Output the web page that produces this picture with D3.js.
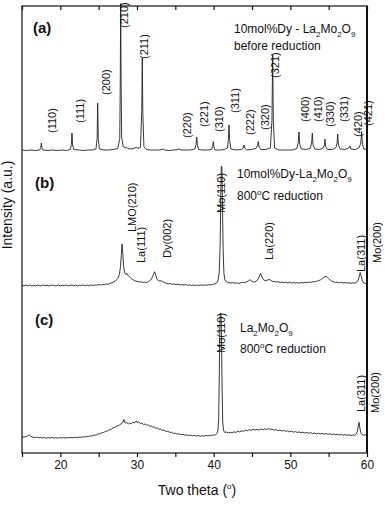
<!DOCTYPE html>
<html><head><meta charset="utf-8">
<script src="https://cdn.jsdelivr.net/npm/d3@7"></script>
<style>
body{margin:0;background:#fff;}
svg text{font-family:"Liberation Sans",Arial,Helvetica,sans-serif;fill:#111;}
</style>
</head><body>
<svg id="chart" width="385" height="505"></svg>
<script>
// ---------- DATA (2θ in degrees, intensity in counts relative to each pattern's baseline) ----------
const traceA = [[15.0,5],[15.6,0],[16.2,5],[16.8,0],[17.3,5],[17.45,30],[17.52,75],[17.6,25],[17.75,5],[18.4,0],[19.0,5],[19.6,0],[20.2,5],[20.8,0],[21.3,10],[21.44,60],[21.52,175],[21.6,55],[21.75,10],[22.4,5],[23.0,0],[23.6,5],[24.2,5],[24.65,15],[24.8,120],[24.87,475],[24.95,110],[25.1,15],[25.7,5],[26.3,5],[26.9,10],[27.5,20],[27.75,120],[27.82,700],[27.87,1470],[27.93,650],[28.0,130],[28.2,40],[28.5,25],[28.6,35],[28.8,20],[29.2,15],[29.6,20],[29.95,35],[30.1,20],[30.45,30],[30.62,400],[30.69,925],[30.76,380],[30.9,40],[31.2,10],[31.8,5],[32.4,5],[33.0,5],[33.4,15],[33.6,5],[34.2,0],[34.8,5],[35.4,10],[35.5,20],[35.65,5],[36.3,5],[36.9,5],[37.55,15],[37.7,60],[37.79,135],[37.88,55],[38.05,10],[38.6,5],[39.2,5],[39.75,10],[39.87,40],[39.95,90],[40.03,35],[40.2,5],[40.8,5],[41.4,10],[41.8,25],[41.92,110],[42.0,255],[42.08,100],[42.25,15],[42.9,5],[43.6,10],[43.85,25],[43.96,55],[44.08,20],[44.3,5],[44.9,10],[45.5,20],[45.72,50],[45.82,90],[45.92,35],[46.15,10],[46.8,10],[47.4,25],[47.6,300],[47.7,955],[47.78,290],[47.95,25],[48.5,5],[49.1,5],[49.7,5],[50.3,5],[50.85,20],[51.03,80],[51.13,185],[51.22,60],[51.45,15],[52.1,10],[52.6,25],[52.78,75],[52.87,175],[52.96,55],[53.2,15],[53.8,10],[54.3,25],[54.44,55],[54.52,115],[54.6,40],[54.85,10],[55.5,10],[55.95,30],[56.1,75],[56.18,165],[56.27,55],[56.5,15],[57.1,10],[57.6,25],[57.78,45],[57.9,15],[58.5,10],[59.0,30],[59.2,80],[59.3,190],[59.4,60],[59.6,15],[60.0,10]];

const traceB = [[15.00,3],[15.25,-4],[15.50,5],[15.75,-2],[16.00,6],[16.25,-5],[16.50,2],[16.75,-6],[17.00,4],[17.25,0],[17.50,-5],[17.75,6],[18.00,-3],[18.25,4],[18.50,-6],[18.75,2],[19.00,5],[19.25,-4],[19.50,0],[19.75,6],[20.00,-5],[20.25,3],[20.50,-2],[20.75,5],[21.00,-4],[21.25,2],[21.50,6],[21.75,-3],[22.00,4],[22.25,-5],[22.50,3],[22.75,0],[23.00,6],[23.25,-2],[23.50,5],[23.75,-4],[24.00,7],[24.25,0],[24.50,6],[24.75,3],[25.00,9],[25.25,4],[25.50,12],[25.75,8],[26.00,15],[26.25,12],[26.50,22],[26.75,28],[27.00,38],[27.25,50],[27.50,70],[27.70,110],[27.85,190],[27.95,300],[28.05,415],[28.15,320],[28.25,190],[28.40,125],[28.55,110],[28.65,122],[28.80,105],[29.00,88],[29.25,70],[29.50,58],[29.75,46],[30.00,42],[30.25,34],[30.50,38],[30.75,30],[31.00,34],[31.25,30],[31.50,40],[31.75,52],[31.95,75],[32.15,110],[32.30,138],[32.45,100],[32.60,62],[32.80,50],[33.00,44],[33.20,48],[33.40,36],[33.60,28],[33.85,22],[34.10,16],[34.35,20],[34.60,12],[34.85,16],[35.10,8],[35.35,13],[35.60,6],[35.85,10],[36.10,4],[36.35,9],[36.60,2],[36.85,7],[37.10,0],[37.35,6],[37.60,-2],[37.85,5],[38.10,0],[38.35,7],[38.60,1],[38.85,6],[39.10,2],[39.35,9],[39.60,5],[39.85,12],[40.10,14],[40.35,22],[40.55,45],[40.72,120],[40.85,420],[40.93,900],[41.00,1195],[41.08,1180],[41.15,800],[41.23,380],[41.33,130],[41.45,60],[41.60,42],[41.80,32],[42.00,28],[42.25,24],[42.50,30],[42.75,22],[43.00,27],[43.25,20],[43.50,26],[43.75,32],[44.00,28],[44.25,36],[44.50,42],[44.70,60],[44.90,45],[45.10,40],[45.35,35],[45.60,45],[45.85,70],[46.00,100],[46.12,122],[46.25,95],[46.45,62],[46.70,48],[46.95,52],[47.20,60],[47.40,55],[47.65,42],[47.90,40],[48.15,35],[48.40,38],[48.65,30],[48.90,35],[49.15,28],[49.40,34],[49.65,26],[49.90,32],[50.15,25],[50.40,30],[50.65,24],[50.90,28],[51.15,22],[51.40,30],[51.65,26],[51.90,32],[52.15,28],[52.40,35],[52.65,30],[52.90,38],[53.15,36],[53.40,42],[53.65,48],[53.90,55],[54.10,65],[54.30,78],[54.50,88],[54.65,92],[54.80,84],[55.00,70],[55.20,55],[55.40,45],[55.65,36],[55.90,30],[56.15,34],[56.40,27],[56.65,32],[56.90,25],[57.15,30],[57.40,24],[57.65,28],[57.90,22],[58.15,27],[58.40,24],[58.65,32],[58.85,55],[59.00,95],[59.12,130],[59.25,90],[59.40,45],[59.60,25],[59.80,20],[60.00,18]];

const traceC = [[15.00,12],[15.25,8],[15.50,14],[15.75,20],[15.95,32],[16.15,18],[16.40,10],[16.65,4],[16.90,8],[17.15,2],[17.40,6],[17.65,0],[17.90,5],[18.15,-2],[18.40,4],[18.65,0],[18.90,6],[19.15,-1],[19.40,3],[19.65,-2],[19.90,4],[20.15,0],[20.40,5],[20.65,-1],[20.90,4],[21.15,1],[21.40,6],[21.65,2],[21.90,8],[22.15,3],[22.40,9],[22.65,6],[22.90,12],[23.15,9],[23.40,16],[23.65,14],[23.90,22],[24.15,20],[24.40,30],[24.65,28],[24.90,40],[25.15,42],[25.40,52],[25.65,55],[25.90,68],[26.15,70],[26.40,84],[26.65,88],[26.90,102],[27.15,108],[27.40,120],[27.65,126],[27.90,140],[28.10,150],[28.30,185],[28.45,150],[28.65,155],[28.85,140],[29.05,150],[29.25,142],[29.45,158],[29.65,150],[29.90,170],[30.05,152],[30.25,160],[30.45,145],[30.65,150],[30.85,135],[31.05,140],[31.25,128],[31.45,132],[31.65,118],[31.85,120],[32.05,108],[32.25,110],[32.45,98],[32.65,100],[32.85,88],[33.05,90],[33.25,78],[33.50,80],[33.75,66],[34.00,68],[34.25,56],[34.50,58],[34.75,46],[35.00,48],[35.25,38],[35.50,42],[35.75,32],[36.00,36],[36.25,28],[36.50,32],[36.75,24],[37.00,30],[37.25,22],[37.50,28],[37.75,18],[38.00,26],[38.25,16],[38.50,24],[38.75,18],[39.00,26],[39.25,20],[39.50,28],[39.75,24],[40.00,32],[40.20,30],[40.40,42],[40.55,70],[40.65,180],[40.73,600],[40.80,1100],[40.87,1250],[40.95,1240],[41.02,1000],[41.10,500],[41.18,160],[41.30,75],[41.45,55],[41.65,60],[41.90,50],[42.15,58],[42.40,52],[42.65,62],[42.90,56],[43.15,68],[43.40,60],[43.65,72],[43.90,66],[44.15,80],[44.40,72],[44.65,84],[44.90,76],[45.15,88],[45.40,80],[45.65,86],[45.90,78],[46.15,90],[46.40,82],[46.65,92],[46.90,84],[47.15,94],[47.40,86],[47.65,88],[47.90,78],[48.15,84],[48.40,74],[48.65,80],[48.90,70],[49.15,76],[49.40,66],[49.65,72],[49.90,62],[50.15,68],[50.40,58],[50.65,64],[50.90,55],[51.15,62],[51.40,52],[51.65,58],[51.90,50],[52.15,56],[52.40,46],[52.65,54],[52.90,44],[53.15,50],[53.40,42],[53.65,48],[53.90,40],[54.15,46],[54.40,38],[54.65,44],[54.90,36],[55.15,42],[55.40,34],[55.65,40],[55.90,32],[56.15,38],[56.40,30],[56.65,36],[56.90,28],[57.15,34],[57.40,26],[57.65,32],[57.90,25],[58.15,30],[58.40,28],[58.60,40],[58.75,70],[58.88,130],[58.96,158],[59.05,110],[59.18,55],[59.35,35],[59.55,28],[59.75,32],[60.00,26]];

const panelOffsets = [3025, 1675, 150];   // vertical stacking offsets (counts)

// peak annotations: [text, 2θ, intensity above baseline where label starts]
const labelsA = [["(110)",18.87,175],["(111)",22.56,275],["(200)",25.96,555],["(210)",28.3,1225],["(211)",30.91,915],["(220)",36.59,125],["(221)",38.74,235],["(310)",40.73,185],["(311)",42.78,375],["(222)",44.8,155],["(320)",46.76,205],["(321)",48.0,725],["(400)",51.91,285],["(410)",53.61,285],["(330)",55.17,235],["(331)",57.0,285],["(420)",58.82,135],["(421)",60.13,245]];
const labelsB = [["LMO(210)",29.31,535],["La(111)",30.52,225],["Dy(002)",33.87,275],["Mo(110)",40.96,725],["La(220)",47.22,255],["La(311)",59.3,135],["Mo(200)",61.26,225]];
const labelsC = [["Mo(110)",40.92,850],["La(311)",59.18,260],["Mo(200)",61.04,250]];

const panelTags = ["(a)", "(b)", "(c)"];
const sampleNames = [
  [["10mol%Dy - La",""],["2","sub"],["Mo",""],["2","sub"],["O",""],["9","sub"]],
  [["10mol%Dy-La",""],["2","sub"],["Mo",""],["2","sub"],["O",""],["9","sub"]],
  [["La",""],["2","sub"],["Mo",""],["2","sub"],["O",""],["9","sub"]]
];
const sampleConditions = [
  [["before reduction",""]],
  [["800",""],["o","sup"],["C reduction",""]],
  [["800",""],["o","sup"],["C reduction",""]]
];
const xTickValues = [15,20,25,30,35,40,45,50,55,60];
const xLabelTicks = [20,30,40,50,60];

// ---------- DRAWING ----------
const svg = d3.select("#chart");
const L = 22, R = 367, T = 6, B = 453;
const x = d3.scaleLinear().domain([15, 60]).range([L, R]);
const y = d3.scaleLinear().domain([0, 4470]).range([B, T]);

svg.append("defs").append("clipPath").attr("id","plotclip")
  .append("rect").attr("x",L).attr("y",T-8).attr("width",R-L).attr("height",B-T+8);

const line = d3.line().x(d => x(d[0]));
[traceA, traceB, traceC].forEach((tr, i) => {
  svg.append("path")
    .attr("clip-path","url(#plotclip)")
    .attr("d", line.y(d => y(d[1] + panelOffsets[i]))(tr))
    .attr("fill","none").attr("stroke","#222").attr("stroke-width",0.9)
    .attr("stroke-linejoin","round");
});

// frame
svg.append("rect").attr("x",L).attr("y",T).attr("width",R-L).attr("height",B-T)
  .attr("fill","none").attr("stroke","#111").attr("stroke-width",1.2);
svg.append("line").attr("x1",R).attr("x2",R).attr("y1",T).attr("y2",B)
  .attr("stroke","#111").attr("stroke-width",2);

// axes
const axB = svg.append("g").attr("transform",`translate(0,${B})`)
  .call(d3.axisBottom(x).tickValues(xTickValues).tickSize(4).tickPadding(3)
    .tickFormat(d => xLabelTicks.includes(d) ? d : ""));
axB.select(".domain").remove();
axB.selectAll("line").attr("stroke","#111").attr("stroke-width",1.2);
axB.selectAll("text").style("font-size","12px").attr("fill","#222");

const axT = svg.append("g").attr("transform",`translate(0,${T})`)
  .call(d3.axisTop(x).tickValues(xTickValues).tickSize(-4).tickFormat(""));
axT.select(".domain").remove();
axT.selectAll("line").attr("stroke","#111").attr("stroke-width",1.2);

// axis titles
const xt = svg.append("text").attr("x",197).attr("y",495).attr("text-anchor","middle")
  .style("font-size","14px");
xt.append("tspan").text("Two theta (");
xt.append("tspan").text("o").style("font-size","8px").attr("dy",-6);
xt.append("tspan").text(")").attr("dy",6);

svg.append("text").attr("transform","translate(12,205) rotate(-90)")
  .attr("text-anchor","middle").style("font-size","14px").text("Intensity (a.u.)");

// peak labels
[labelsA, labelsB, labelsC].forEach((labs, i) => {
  svg.selectAll(null).data(labs).enter().append("text")
    .attr("transform", d => `translate(${x(d[1])},${y(d[2] + panelOffsets[i])}) rotate(-90)`)
    .attr("dy","0.35em").style("font-size","11px").text(d => d[0]);
});

// panel tags and sample descriptions
const tagPos = [[33,33],[35,188],[35,325]];
const namePos = [[234,33,50],[237,178,200],[240,332,353]];
function rich(sel, parts) {
  let shift = 0;
  parts.forEach(p => {
    const t = sel.append("tspan").text(p[0]);
    let target = p[1] === "sub" ? 3.5 : p[1] === "sup" ? -5 : 0;
    if (p[1]) t.style("font-size","8px");
    t.attr("dy", target - shift);
    shift = target;
  });
}
panelTags.forEach((t, i) => {
  svg.append("text").attr("x",tagPos[i][0]).attr("y",tagPos[i][1])
    .style("font-size","15px").style("font-weight","bold").text(t);
  rich(svg.append("text").attr("x",namePos[i][0]).attr("y",namePos[i][1]).style("font-size","12px"), sampleNames[i]);
  rich(svg.append("text").attr("x",namePos[i][0]).attr("y",namePos[i][2]).style("font-size","12px"), sampleConditions[i]);
});
</script>
</body></html>
